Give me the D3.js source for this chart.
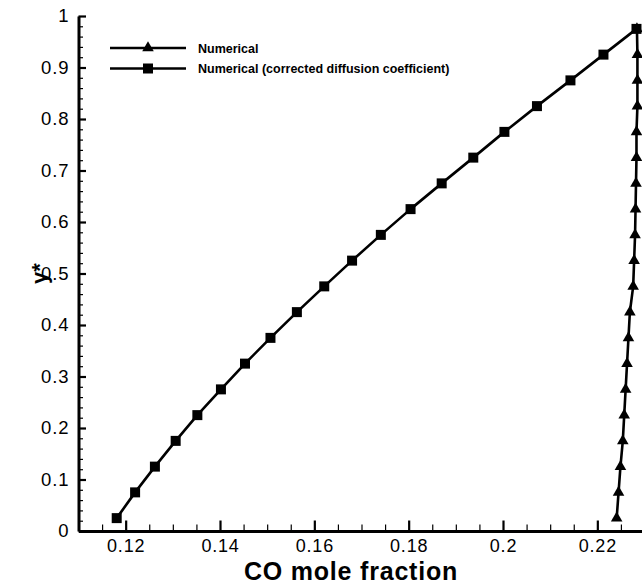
<!DOCTYPE html>
<html>
<head>
<meta charset="utf-8">
<script src="https://cdn.jsdelivr.net/npm/d3@7"></script>
<style>
  html, body { margin: 0; padding: 0; background: #fff; }
  svg { display: block; }
  text { font-family: "Liberation Sans", Arial, Helvetica, sans-serif; fill: #000; }
</style>
</head>
<body>
<svg id="chart" width="642" height="585"></svg>
<script>
// Dimensionless height levels shared by both profiles
const yLevels = [0.025, 0.075, 0.125, 0.175, 0.225, 0.275, 0.325, 0.375, 0.425, 0.475,
                 0.525, 0.575, 0.625, 0.675, 0.725, 0.775, 0.825, 0.875, 0.925, 0.975];

// CO mole fraction, numerical solution
const numericalX = [0.2241, 0.2245, 0.2249, 0.2254, 0.2257, 0.2260, 0.2263, 0.2266, 0.2269, 0.2276,
                    0.2278, 0.2280, 0.2281, 0.2282, 0.2283, 0.2283, 0.2285, 0.2285, 0.2285, 0.2284];

// CO mole fraction, numerical solution with corrected diffusion coefficient
const correctedX = [0.1181, 0.1220, 0.1262, 0.1306, 0.1352, 0.1402, 0.1453, 0.1507, 0.1563, 0.1621,
                    0.1680, 0.1741, 0.1804, 0.1870, 0.1937, 0.2003, 0.2072, 0.2143, 0.2213, 0.2283];

const xMajorTicks = [0.12, 0.14, 0.16, 0.18, 0.2, 0.22];
const xTickLabels = ["0.12", "0.14", "0.16", "0.18", "0.2", "0.22"];
const yMajorTicks = [0, 0.1, 0.2, 0.3, 0.4, 0.5, 0.6, 0.7, 0.8, 0.9, 1];
const yTickLabels = ["0", "0.1", "0.2", "0.3", "0.4", "0.5", "0.6", "0.7", "0.8", "0.9", "1"];

const seriesNames = ["Numerical", "Numerical (corrected diffusion coefficient)"];

const svg = d3.select("#chart");

const x = d3.scaleLinear().domain([0.11, 0.23]).range([78.5, 644.5]);
const y = d3.scaleLinear().domain([0, 1]).range([531, 16]);

// minor tick positions
const xMinor = d3.range(0.11, 0.2301, 0.005).filter(v => !xMajorTicks.some(t => Math.abs(t - v) < 1e-6));
const yMinor = d3.range(0, 1.0001, 0.02).filter(v => !yMajorTicks.some(t => Math.abs(t - v) < 1e-6));

// ---- axes ----
const xAxisG = svg.append("g").attr("transform", `translate(0,${y(0)})`);
xAxisG.append("g")
  .call(d3.axisBottom(x).tickValues(xMinor).tickSize(-6.5).tickSizeOuter(0).tickFormat(""))
  .call(g => g.select(".domain").remove())
  .call(g => g.selectAll("line").attr("stroke", "#000").attr("stroke-width", 1.2));
xAxisG.append("g")
  .call(d3.axisBottom(x).tickValues(xMajorTicks).tickSize(-10.5).tickSizeOuter(0).tickPadding(8)
        .tickFormat((d, i) => xTickLabels[i]))
  .call(g => g.select(".domain").attr("stroke", "#000").attr("stroke-width", 3))
  .call(g => g.selectAll("line").attr("stroke", "#000").attr("stroke-width", 2.2))
  .call(g => g.selectAll("text").attr("font-size", 18).attr("letter-spacing", 0.8)
        .attr("font-family", "Liberation Sans, Arial, sans-serif").attr("fill", "#000"));

const yAxisG = svg.append("g").attr("transform", `translate(${x(0.11)},0)`);
yAxisG.append("g")
  .call(d3.axisLeft(y).tickValues(yMinor).tickSize(-4.5).tickSizeOuter(0).tickFormat(""))
  .call(g => g.select(".domain").remove())
  .call(g => g.selectAll("line").attr("stroke", "#000").attr("stroke-width", 1.2));
yAxisG.append("g")
  .call(d3.axisLeft(y).tickValues(yMajorTicks).tickSize(-7.5).tickSizeOuter(0).tickPadding(9)
        .tickFormat((d, i) => yTickLabels[i]))
  .call(g => g.select(".domain").attr("stroke", "#000").attr("stroke-width", 3))
  .call(g => g.selectAll("line").attr("stroke", "#000").attr("stroke-width", 2.2))
  .call(g => g.selectAll("text").attr("font-size", 18.5).attr("letter-spacing", 0.9)
        .attr("font-family", "Liberation Sans, Arial, sans-serif").attr("fill", "#000"));

// ---- axis titles ----
svg.append("text")
  .attr("x", 351).attr("y", 580)
  .attr("text-anchor", "middle")
  .attr("font-size", 25).attr("font-weight", "bold").attr("letter-spacing", 0.8)
  .text("CO mole fraction");

svg.append("text")
  .attr("transform", `translate(47,${y(0.5)}) rotate(-90)`)
  .attr("text-anchor", "middle")
  .attr("font-size", 22).attr("font-weight", "bold")
  .text("y*");

// ---- series ----
const line = d3.line().x(d => x(d[0])).y(d => y(d[1]));
const triSym = d3.symbol().type(d3.symbolTriangle).size(58);
const sqSym = d3.symbol().type(d3.symbolSquare).size(100);

const numericalPts = numericalX.map((v, i) => [v, yLevels[i]]);
const correctedPts = correctedX.map((v, i) => [v, yLevels[i]]);

svg.append("path").datum(numericalPts)
  .attr("d", line).attr("fill", "none").attr("stroke", "#000").attr("stroke-width", 2.6)
  .attr("stroke-linejoin", "round");
svg.append("g").selectAll("path").data(numericalPts).join("path")
  .attr("d", triSym).attr("transform", d => `translate(${x(d[0])},${y(d[1])})`).attr("fill", "#000");

svg.append("path").datum(correctedPts)
  .attr("d", line).attr("fill", "none").attr("stroke", "#000").attr("stroke-width", 2.6)
  .attr("stroke-linejoin", "round");
svg.append("g").selectAll("path").data(correctedPts).join("path")
  .attr("d", sqSym).attr("transform", d => `translate(${x(d[0])},${y(d[1])})`).attr("fill", "#000");

// ---- legend ----
const legend = svg.append("g");
const legendRows = [
  { name: seriesNames[0], sym: triSym, ly: 48 },
  { name: seriesNames[1], sym: sqSym, ly: 68.5 }
];
legendRows.forEach(r => {
  legend.append("line").attr("x1", 110).attr("x2", 186).attr("y1", r.ly).attr("y2", r.ly)
    .attr("stroke", "#000").attr("stroke-width", 2.6);
  legend.append("path").attr("d", r.sym).attr("transform", `translate(148,${r.ly})`).attr("fill", "#000");
  legend.append("text").attr("x", 198).attr("y", r.ly + 4.5)
    .attr("font-size", 12.5).attr("font-weight", "bold")
    .text(r.name);
});
</script>
</body>
</html>
